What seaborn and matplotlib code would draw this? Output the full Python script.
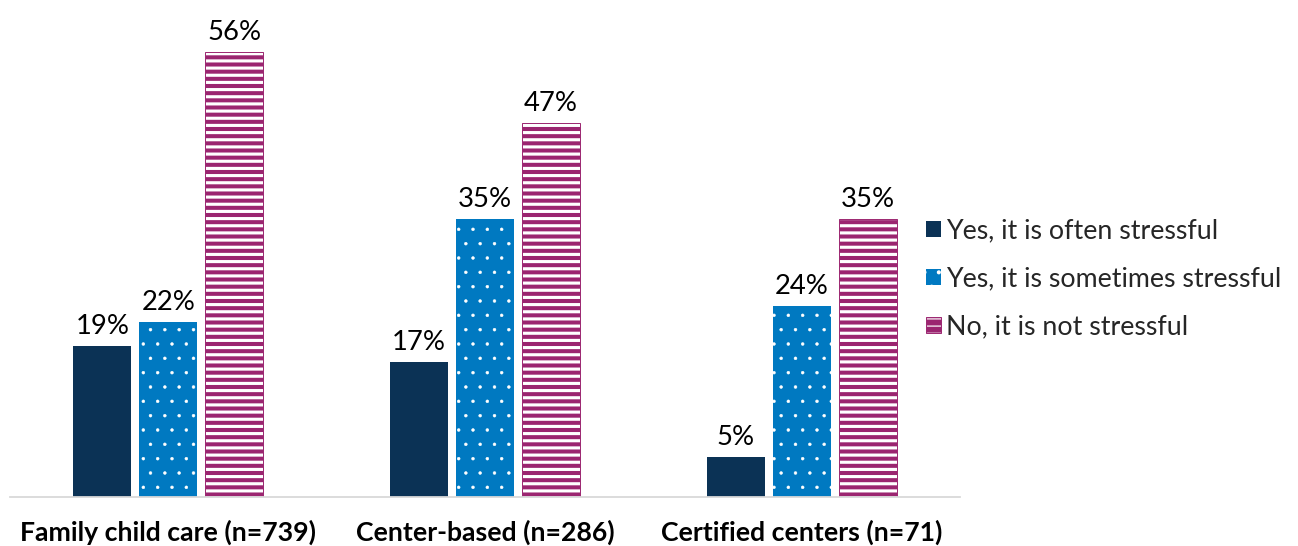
import matplotlib
matplotlib.use("Agg")
import matplotlib.pyplot as plt
from matplotlib.colors import to_rgba
import seaborn as sns
import pandas as pd

categories = ["Family child care (n=739)", "Center-based (n=286)", "Certified centers (n=71)"]
series_names = ["Yes, it is often stressful", "Yes, it is sometimes stressful", "No, it is not stressful"]
often = [19, 17, 5]
sometimes = [22, 35, 24]
not_stressful = [56, 47, 35]

colors = ["#0B3255", "#0079C1", "#9B2570"]
hatches = ["", ".", "--"]
hatch_lw = [0.5, 0.4, 2.6]

rows = []
for s, vals in zip(series_names, [often, sometimes, not_stressful]):
    for c, v in zip(categories, vals):
        rows.append({"category": c, "series": s, "value": v})
df = pd.DataFrame(rows)

sns.set_theme(style="white")
plt.rcParams["font.family"] = ["Lato", "DejaVu Sans"]

DPI = 86
fig = plt.figure(figsize=(1298 / DPI, 546 / DPI), dpi=DPI)
ax = fig.add_axes([10 / 1298, 49 / 546, 950 / 1298, 477 / 546])

sns.barplot(data=df, x="category", y="value", hue="series", order=categories,
            hue_order=series_names, palette=colors, width=0.625, gap=0.12,
            saturation=1, errorbar=None, ax=ax, legend=False)

for cont, col, h, hl in zip(ax.containers, colors, hatches, hatch_lw):
    for p in cont.patches:
        p.set_facecolor(col)
        p.set_edgecolor(col if h == "--" else "none")
        p.set_linewidth(0.8 if h == "--" else 0)
        if h:
            p.set_hatch(h)
            if hasattr(p, "set_hatch_linewidth"):
                p.set_hatch_linewidth(hl)
            if hasattr(p, "set_hatchcolor"):
                p.set_hatchcolor("white")
            else:
                p._hatch_color = to_rgba("white")
    ax.bar_label(cont, labels=[f"{int(round(v))}%" for v in cont.datavalues],
                 padding=6, fontsize=23, color="#000000")

ax.set_ylim(0, 60)
ax.set_xlim(-0.5, 2.5)
ax.set_xlabel("")
ax.set_ylabel("")
ax.set_yticks([])
ax.tick_params(axis="x", length=0, pad=19)
for t in ax.get_xticklabels():
    t.set_fontweight("bold")
    t.set_fontsize(22.3)
    t.set_color("#000000")
for side in ["top", "right", "left"]:
    ax.spines[side].set_visible(False)
ax.spines["bottom"].set_color("#D9D9D9")
ax.spines["bottom"].set_linewidth(1.5)

handles = [cont.patches[0] for cont in ax.containers]
fig.legend(handles, series_names, loc="center left",
           bbox_to_anchor=(926 / 1298, 1 - 279 / 546), frameon=False,
           fontsize=22.4, handlelength=0.55, handleheight=0.55,
           handletextpad=0.2, labelspacing=0.85, borderpad=0, borderaxespad=0)

fig.savefig("out.png", dpi=DPI)
